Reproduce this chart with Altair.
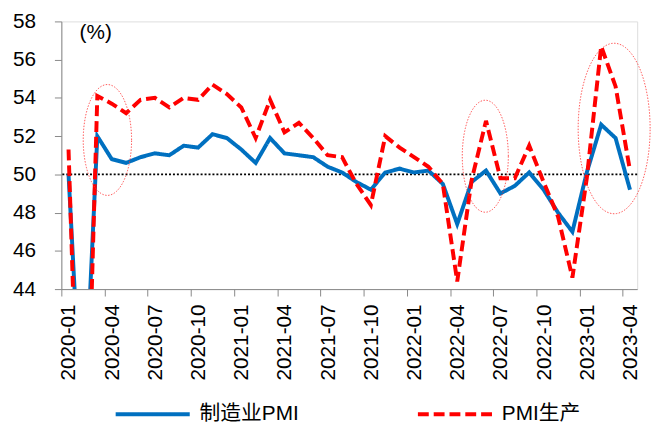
import json
import numpy as np
import pandas as pd
import altair as alt

# ---- data ----
months = [f"{y}-{m:02d}" for y in (2020, 2021, 2022, 2023) for m in range(1, 13)][:40]
mfg_pmi = [50.0, 35.7, 52.0, 50.8, 50.6, 50.9, 51.1, 51.0, 51.5, 51.4, 52.1, 51.9,
           51.3, 50.6, 51.9, 51.1, 51.0, 50.9, 50.4, 50.1, 49.6, 49.2, 50.1, 50.3,
           50.1, 50.2, 49.5, 47.4, 49.6, 50.2, 49.0, 49.4, 50.1, 49.2, 48.0, 47.0,
           50.1, 52.6, 51.9, 49.2]
prod_pmi = [51.3, 27.8, 54.1, 53.7, 53.2, 53.9, 54.0, 53.5, 54.0, 53.9, 54.7, 54.2,
            53.5, 51.9, 53.9, 52.2, 52.7, 51.9, 51.0, 50.9, 49.5, 48.4, 52.0, 51.4,
            50.9, 50.4, 49.5, 44.4, 49.7, 52.8, 49.8, 49.8, 51.5, 49.6, 47.8, 44.6,
            49.8, 56.7, 54.6, 50.2]
series_names = ["制造业PMI", "PMI生产"]
tick_labels = months[::3]
y_ticks = [44, 46, 48, 50, 52, 54, 56, 58]
ref_level = 50

# highlight ellipses: centre month index, centre value, half-width (months), half-height (pct points)
ell_cx = [3.2, 29.45, 38.4]
ell_cy = [51.8, 50.95, 52.4]
ell_rx = [1.68, 1.6, 2.5]
ell_ry = [2.9, 2.93, 4.46]

rows = []
for name, vals in zip(series_names, [mfg_pmi, prod_pmi]):
    for i, v in enumerate(vals):
        rows.append({"series": name, "x": i + 0.5, "v": v})
df = pd.DataFrame(rows)

erows = []
theta = np.linspace(0, 2 * np.pi, 97)
for k in range(len(ell_cx)):
    for j, t in enumerate(theta):
        erows.append({"e": k, "o": j,
                      "x": ell_cx[k] + ell_rx[k] * np.cos(t),
                      "v": ell_cy[k] + ell_ry[k] * np.sin(t)})
edf = pd.DataFrame(erows)

FONT = "Liberation Sans, Arial, Noto Sans CJK SC"

xscale = alt.Scale(domain=[0, 40], nice=False, zero=False)
yscale = alt.Scale(domain=[44, 58], nice=False, zero=False)

label_expr = f"{json.dumps(tick_labels)}[round(datum.value/3)]"

x_axis = alt.Axis(values=list(range(0, 40, 3)), labelExpr=label_expr, labelAngle=270,
                  labelOffset=7.8, title=None, grid=False, tickSize=7, labelPadding=8,
                  labelFontSize=21, labelFont=FONT, labelColor="black", labelOverlap=False)
y_axis = alt.Axis(values=y_ticks, title="(%)", titleAngle=0, titleX=18, titleY=11,
                  titleAlign="left", titleBaseline="middle", titleFontSize=21,
                  titleFontWeight="normal", titleFont=FONT, grid=False, tickSize=7,
                  labelPadding=19, labelFontSize=21, labelFont=FONT, labelColor="black",
                  labelOverlap=False, labelBound=False, labelFlush=False)

legend = alt.Legend(title=None, orient="none", legendX=53, legendY=358,
                    direction="horizontal", symbolType="stroke",
                    symbolSize=5625, symbolStrokeWidth=4, labelFontSize=21,
                    labelFont=FONT, labelOffset=8, columnPadding=112,
                    padding=0, labelColor="black")

ref = alt.Chart(pd.DataFrame({"v": [ref_level]})).mark_rule(
    color="black", strokeWidth=2, strokeDash=[2, 2]
).encode(y=alt.Y("v:Q", scale=yscale, axis=y_axis))

lines = alt.Chart(df).mark_line(strokeWidth=4, clip=True).encode(
    x=alt.X("x:Q", scale=xscale, axis=x_axis),
    y=alt.Y("v:Q", scale=yscale, axis=y_axis),
    color=alt.Color("series:N", scale=alt.Scale(domain=series_names, range=["#0070C0", "#FF0000"]),
                    legend=legend),
    strokeDash=alt.StrokeDash("series:N", scale=alt.Scale(domain=series_names, range=[[1, 0], [11, 5]]),
                              legend=legend),
    order=alt.Order("x:Q"),
)

ells = alt.Chart(edf).mark_line(color="#FF3030", strokeWidth=1, strokeDash=[1.5, 1.5],
                                opacity=0.8, clip=False).encode(
    x=alt.X("x:Q", scale=xscale, axis=x_axis),
    y=alt.Y("v:Q", scale=yscale, axis=y_axis),
    detail="e:N",
    order="o:Q",
)

chart = alt.layer(ref, lines, ells).properties(
    width=583, height=271,
    autosize=alt.AutoSizeParams(type="none"),
    padding={"left": 54, "top": 11, "right": 14, "bottom": 135},
).configure_view(stroke=None).configure_axis(
    domainColor="#868686", domainWidth=1.5, tickColor="#868686", tickWidth=1.5
).configure(background="white")

chart.save("out.html", embed_options={"renderer": "svg", "actions": False})
